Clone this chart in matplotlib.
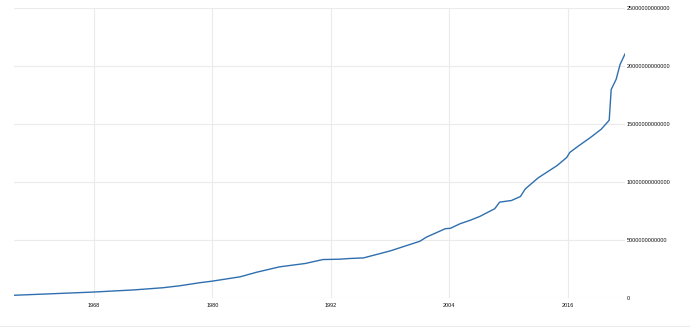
import numpy as np
from matplotlib import pyplot as plt
from matplotlib.lines import Line2D

# money supply, readings in trillions by decimal year
years = [1959.9, 1964.0, 1968.0, 1972.0, 1975.0, 1976.7, 1978.7, 1980.0,
         1982.8, 1984.5, 1986.8, 1989.4, 1991.2, 1992.9, 1993.9, 1995.3,
         1998.0, 2001.0, 2001.7, 2003.6, 2004.1, 2005.1, 2006.1, 2007.1,
         2008.6, 2009.1, 2010.3, 2011.2, 2011.7, 2013.0, 2014.9, 2015.9,
         2016.2, 2017.2, 2017.7, 2018.3, 2019.4, 2020.2, 2020.4, 2020.9,
         2021.3, 2021.8]
values_tn = [0.26, 0.40, 0.54, 0.72, 0.91, 1.08, 1.34, 1.48,
             1.85, 2.25, 2.71, 3.00, 3.34, 3.37, 3.43, 3.48,
             4.08, 4.91, 5.28, 6.00, 6.03, 6.43, 6.72, 7.06,
             7.72, 8.29, 8.43, 8.77, 9.43, 10.38, 11.43, 12.14,
             12.57, 13.20, 13.50, 13.86, 14.58, 15.35, 18.00, 18.87,
             20.15, 21.06]
xticks = [1968, 1980, 1992, 2004, 2016]
yticks = [0, 5e12, 10e12, 15e12, 20e12, 25e12]

plt.rcParams['font.family'] = ['Liberation Sans', 'DejaVu Sans']

fig = plt.figure(figsize=(6.9, 3.27), dpi=100)
ax = fig.add_axes([14/690, 0.0878, (625-14)/690, 0.8869])

y = np.array(values_tn)*1e12
ax.plot(years, y, color="#2f6fae", lw=1.0, solid_joinstyle="round")

ax.set_xlim(1959.9, 2021.8)
ax.set_ylim(0, 25e12)
ax.set_xticks(xticks)
ax.set_xticklabels([str(t) for t in xticks])
ax.set_yticks(yticks)
ax.set_yticklabels([str(int(v)) for v in yticks])
ax.yaxis.tick_right()

ax.tick_params(axis="x", length=0, pad=3.5, labelsize=4.0, colors="#111111")
ax.tick_params(axis="y", length=0, pad=1.5, labelsize=4.0, colors="#111111")
for lbl in ax.get_yticklabels():
    lbl.set_horizontalalignment("left")

ax.grid(True, color="#ebebeb", lw=0.8)
ax.set_axisbelow(True)
for s in ax.spines.values():
    s.set_visible(False)

# thin rule along the bottom edge
fig.add_artist(Line2D([0, 1], [1.5/327, 1.5/327], color="#ebebeb", lw=0.8,
                      transform=fig.transFigure))

fig.savefig("out.png", dpi=100)
